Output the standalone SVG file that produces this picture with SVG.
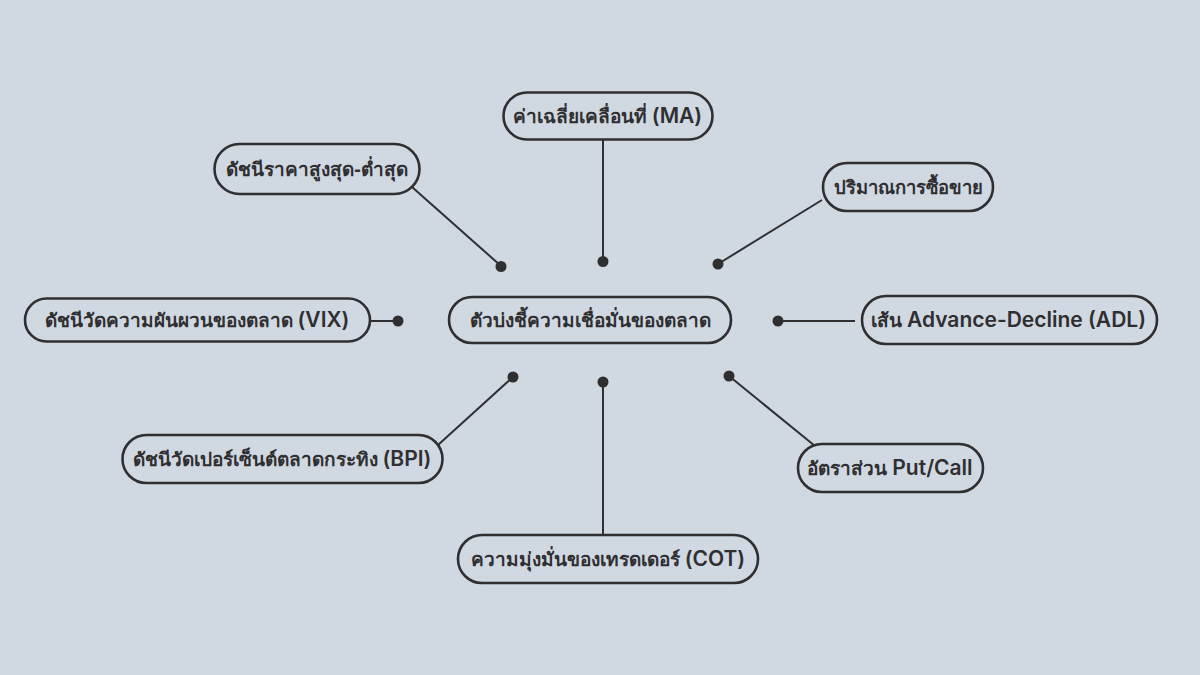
<svg xmlns="http://www.w3.org/2000/svg" width="1200" height="675" viewBox="0 0 1200 675">
<style>
.bg{fill:#d0d8e2}
.n{fill:#d0d8e2;stroke:#2f2f31;stroke-width:2.6}
.t{font-family:"Noto Sans","Open Sans","Liberation Sans",sans-serif;font-size:19px;font-weight:700;fill:#2f2f31;text-anchor:middle}
.l{font-family:Inter,"Liberation Sans",sans-serif;font-size:21px;font-weight:600}
.c{stroke:#2f2f31;stroke-width:2;fill:none}
.d{fill:#2f2f31}
</style>
<rect class="bg" width="1200" height="675"/>
<g id="connectors">
<path class="c" d="M603 140V261"/><circle class="d" cx="603" cy="261.500" r="5.500"/>
<path class="c" d="M412 187L501 266"/><circle class="d" cx="501" cy="266.500" r="5.500"/>
<path class="c" d="M822 200L718 264"/><circle class="d" cx="718" cy="264" r="5.500"/>
<path class="c" d="M371 321H398"/><circle class="d" cx="398" cy="321" r="5.500"/>
<path class="c" d="M855 321H778"/><circle class="d" cx="778" cy="321" r="5.500"/>
<path class="c" d="M438 445L513 377"/><circle class="d" cx="513" cy="377" r="5.500"/>
<path class="c" d="M603 535V382"/><circle class="d" cx="603" cy="382" r="5.500"/>
<path class="c" d="M815 446L729 376"/><circle class="d" cx="729" cy="376" r="5.500"/>
</g>
<g id="n-center"><rect class="n" x="449" y="297" width="282" height="46" rx="23"/><text class="t" x="590" y="327">ตัวบ่งชี้ความเชื่อมั่นของตลาด</text></g>
<g id="n-ma"><rect class="n" x="503.500" y="92.500" width="209" height="47" rx="23.500"/><text class="t" x="607.500" y="123">ค่าเฉลี่ยเคลื่อนที่ <tspan class="l">(MA)</tspan></text></g>
<g id="n-hl"><rect class="n" x="214.500" y="144" width="205" height="50" rx="25"/><text class="t" x="317" y="176">ดัชนีราคาสูงสุด-ต่ำสุด</text></g>
<g id="n-vol"><rect class="n" x="823" y="163" width="170" height="48" rx="24"/><text class="t" style="font-size:18.4px" x="908" y="194">ปริมาณการซื้อขาย</text></g>
<g id="n-vix"><rect class="n" x="25" y="298.500" width="345" height="43" rx="21.500"/><text class="t" x="197" y="327">ดัชนีวัดความผันผวนของตลาด <tspan class="l">(VIX)</tspan></text></g>
<g id="n-adl"><rect class="n" x="862" y="296" width="295" height="48" rx="24"/><text class="t" x="1008.500" y="327">เส้น <tspan class="l">Advance-Decline (ADL)</tspan></text></g>
<g id="n-bpi"><rect class="n" x="122.500" y="435" width="320" height="48" rx="24"/><text class="t" x="282" y="466">ดัชนีวัดเปอร์เซ็นต์ตลาดกระทิง <tspan class="l">(BPI)</tspan></text></g>
<g id="n-pc"><rect class="n" x="798" y="444" width="185" height="48" rx="24"/><text class="t" x="890" y="475">อัตราส่วน <tspan class="l">Put/Call</tspan></text></g>
<g id="n-cot"><rect class="n" x="458" y="535" width="300" height="48" rx="24"/><text class="t" x="608" y="566">ความมุ่งมั่นของเทรดเดอร์ <tspan class="l">(COT)</tspan></text></g>
</svg>
